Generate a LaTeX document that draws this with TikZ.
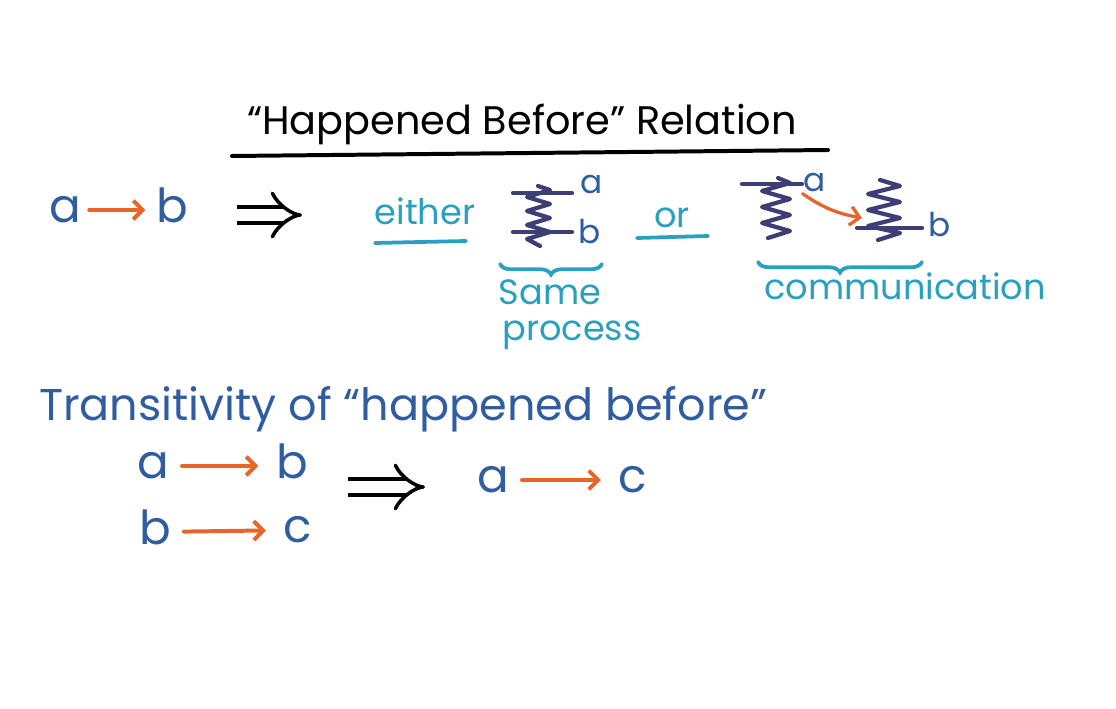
\documentclass[tikz,border=0pt]{standalone}
\usepackage{fontspec}
\setmainfont{Poppins}
\usetikzlibrary{arrows.meta,positioning,decorations.pathreplacing}
\definecolor{evtcol}{RGB}{48,92,160}
\definecolor{msgcol}{RGB}{232,100,40}
\definecolor{notecol}{RGB}{40,160,190}
\definecolor{proccol}{RGB}{62,62,118}
\tikzset{
  evt/.style={font=\fontsize{40}{40}\selectfont,text=evtcol,inner sep=3pt,
    text height=21pt,text depth=0pt},
  lbl/.style={font=\fontsize{28}{28}\selectfont,text=evtcol,inner sep=1pt},
  hb/.style={-{Straight Barb[length=8pt,width=16pt]},msgcol,line width=3.4pt,
    line cap=round,shorten <=8pt,shorten >=12pt},
  implies/.style={double,double distance=11pt,line width=3pt,-{Implies},black},
  note/.style={font=\fontsize{30}{30}\selectfont,text=notecol,inner sep=0pt,anchor=base},
  proc/.style={proccol,line width=3.6pt,line cap=round,line join=round},
  ubrace/.style={notecol,line width=3.2pt,line cap=round,decorate,
    decoration={brace,mirror,amplitude=9pt}},
  uline/.style={notecol,line width=3.2pt,line cap=round}
}
\begin{document}
\begin{tikzpicture}[x=0.03cm,y=-0.03cm]
  \useasboundingbox (0,0) rectangle (1116,709);

  % title
  \node[font=\fontsize{34}{34}\selectfont,anchor=base] (title) at (522,135)
    {“Happened Before” Relation};
  \draw[line width=3.4pt,line cap=round] (232,156) -- (828,150);

  % a -> b
  \node[evt] (a) at (65,210) {a};
  \node[evt] (b) at (172,210) {b};
  \draw[hb,shorten <=4pt,shorten >=6pt] (a) -- (b);
  \coordinate (imp1s) at (237,215);
  \coordinate (imp1e) at (302,215);
  \draw[implies] (imp1s) -- (imp1e);

  % same process
  \node[note] (either) at (425,225) {either};
  \draw[uline] (375,243) -- (466,241);
  \draw[proc] (513,193) -- (572,193);
  \draw[proc] (513,232) -- (572,232);
  \draw[proc] (538,186) -- (550,190) -- (527,197) -- (550,204) -- (527,211)
    -- (550,218) -- (527,225) -- (550,232) -- (527,239) -- (540,246);
  \node[lbl] (pa) at (592,185) {a};
  \node[lbl] (pb) at (590,232) {b};
  \draw[ubrace] (500,264) -- (602,264);
  \node[note] (same) at (550,305) {Same};
  \node[note] (process) at (572,340) {process};

  % communication
  \node[note] (or) at (672,228) {or};
  \draw[uline] (637,238) -- (708,236);
  \draw[proc] (742,184) -- (802,184);
  \draw[proc] (778,178) -- (790,183) -- (762,191) -- (790,199) -- (762,207)
    -- (790,215) -- (762,223) -- (790,231) -- (768,238);
  \node[lbl] (ca) at (815,183) {a};
  \draw[proc] (857,228) -- (922,228);
  \draw[proc] (880,180) -- (900,186) -- (868,194) -- (900,202) -- (868,210)
    -- (900,218) -- (868,226) -- (900,233) -- (878,240);
  \node[lbl] (cb) at (940,225) {b};
  \coordinate (recv) at (862,218);
  \draw[hb,line width=2.8pt,shorten <=0pt,shorten >=0pt] (ca.south west)
    to[bend right=12] (recv);
  \draw[ubrace] (758,262) -- (922,262);
  \node[note] (comm) at (905,300) {communication};

  % transitivity
  \node[font=\fontsize{38}{38}\selectfont,text=evtcol,anchor=base west] (trans)
    at (35,420) {Transitivity of “happened before”};
  \node[evt] (a2) at (153,466) {a};
  \node[evt] (b2) at (292,466) {b};
  \draw[hb] (a2) -- (b2);
  \node[evt] (b3) at (155,532) {b};
  \node[evt] (c3) at (298,530) {c};
  \draw[hb] (b3) -- (c3);
  \coordinate (imp2s) at (348,487);
  \coordinate (imp2e) at (425,487);
  \draw[implies] (imp2s) -- (imp2e);
  \node[evt] (a4) at (493,480) {a};
  \node[evt] (c4) at (633,480) {c};
  \draw[hb] (a4) -- (c4);
\end{tikzpicture}
\end{document}
